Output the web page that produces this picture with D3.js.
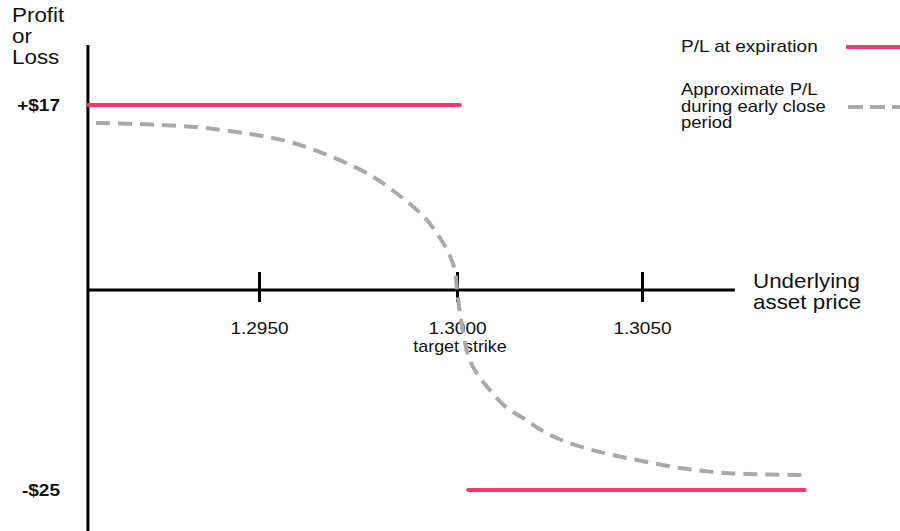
<!DOCTYPE html>
<html>
<head>
<meta charset="utf-8">
<script src="https://cdn.jsdelivr.net/npm/d3@7"></script>
<style>
  html, body { margin: 0; padding: 0; background: #fff; }
  svg { display: block; font-family: "Liberation Sans", Arial, Helvetica, sans-serif; }
</style>
</head>
<body>
<svg id="chart" width="900" height="531"></svg>
<script>
// ---- data ----
const tickPrices = [1.2950, 1.3000, 1.3050];
const tickLabels = ["1.2950", "1.3000", "1.3050"];
const strikeNote = "target strike";
const plLevels = [17, -25];
const plLabels = ["+$17", "-$25"];
const priceMin = 1.29068;
const priceAxisMax = 1.30751;
// P/L at expiration (two flat segments)
const expPrices = [[1.29068, 1.30008], [1.30030, 1.30940]];
const expPL = [17, -25];
// approximate P/L during early close period
const earlyPrices = [1.290884, 1.292247, 1.29351, 1.294773, 1.295783, 1.296793, 1.297803, 1.298561, 1.299192, 1.299571, 1.299823, 1.299949, 1.3000,
                     1.300081, 1.300297, 1.300514, 1.300865, 1.301351, 1.301784, 1.30227, 1.302757, 1.303459, 1.304216, 1.305135, 1.306027, 1.306919, 1.307838, 1.309351];
const earlyPL     = [15.35, 15.21, 14.93, 14.34, 13.60, 12.31, 10.57, 8.64, 6.62, 4.78, 3.12, 1.75, 0.0,
                     -2.875, -8.125, -10.25, -12.375, -14.75, -16.0, -17.5, -18.625, -19.75, -20.625, -21.5, -22.25, -22.75, -23.0, -23.125];
const legendLabels = [["P/L at expiration"], ["Approximate P/L", "during early close", "period"]];
const yTitle = ["Profit", "or", "Loss"];
const xTitle = ["Underlying", "asset price"];

// ---- layout ----
const svg = d3.select("#chart");
const pink = "#f7386c", gray = "#a9a9a9";
const stretch = 1.12;

const x = d3.scaleLinear().domain([1.2950, 1.3000, 1.3050]).range([259, 457, 642]);
const y = d3.scaleLinear().domain([-25, 0, 17]).range([490, 290, 105]);

function txt(px, py, s, size, anchor, weight) {
  return svg.append("text")
    .attr("transform", `translate(${px},${py}) scale(${stretch},1)`)
    .attr("text-anchor", anchor || "start")
    .attr("font-size", size)
    .attr("font-weight", weight || "normal")
    .attr("fill", "#111")
    .text(s);
}

// y axis
const x0 = x(priceMin);
svg.append("line").attr("x1", x0).attr("x2", x0).attr("y1", 45).attr("y2", 531)
  .attr("stroke", "#000").attr("stroke-width", 3);

// x axis
const xAxis = d3.axisBottom(x).tickValues(tickPrices)
  .tickFormat((d, i) => tickLabels[i]).tickSizeOuter(0).tickSizeInner(12);
const gx = svg.append("g").attr("transform", `translate(0,${y(0)})`).call(xAxis);
gx.select(".domain").remove();
gx.insert("line", ":first-child").attr("x1", x0).attr("x2", x(priceAxisMax)).attr("y1", 0).attr("y2", 0)
  .attr("stroke", "#000").attr("stroke-width", 3);
gx.selectAll(".tick line").attr("y1", -18).attr("y2", 12).attr("stroke", "#000").attr("stroke-width", 3);
gx.selectAll(".tick text").attr("y", 0).attr("dy", 0)
  .attr("transform", `translate(0,44) scale(${stretch},1)`)
  .attr("font-size", 17).attr("font-family", "Liberation Sans, Arial, sans-serif").attr("fill", "#111");

// target strike note
txt(x(1.3000) + 3, 352, strikeNote, 16, "middle");

// y level labels
plLevels.forEach((v, i) => {
  txt(60, y(v) + 6, plLabels[i], 17, "end", "bold");
});

// expiration P/L lines
expPrices.forEach((seg, i) => {
  svg.append("line")
    .attr("x1", x(seg[0])).attr("x2", x(seg[1]))
    .attr("y1", y(expPL[i])).attr("y2", y(expPL[i]))
    .attr("stroke", pink).attr("stroke-width", 4).attr("stroke-linecap", "round");
});

// early close curve
const earlyData = earlyPrices.map((p, i) => [p, earlyPL[i]]);
svg.append("path").datum(earlyData)
  .attr("d", d3.line().x(d => x(d[0])).y(d => y(d[1])).curve(d3.curveCatmullRom.alpha(0.5)))
  .attr("fill", "none").attr("stroke", gray).attr("stroke-width", 4)
  .attr("stroke-dasharray", "14,8");

// titles
yTitle.forEach((s, i) => txt(12, [22, 43, 64][i], s, 20, "start"));
xTitle.forEach((s, i) => txt(753, [288, 309][i], s, 20, "start"));

// legend
legendLabels[0].forEach((s, i) => txt(681, 52, s, 17, "start"));
svg.append("line").attr("x1", 846).attr("x2", 900).attr("y1", 47).attr("y2", 47)
  .attr("stroke", pink).attr("stroke-width", 4);
legendLabels[1].forEach((s, i) => txt(681, 95 + i * 16.5, s, 16.5, "start"));
svg.append("line").attr("x1", 848).attr("x2", 900).attr("y1", 107).attr("y2", 107)
  .attr("stroke", gray).attr("stroke-width", 4).attr("stroke-dasharray", "15,7");
</script>
</body>
</html>
